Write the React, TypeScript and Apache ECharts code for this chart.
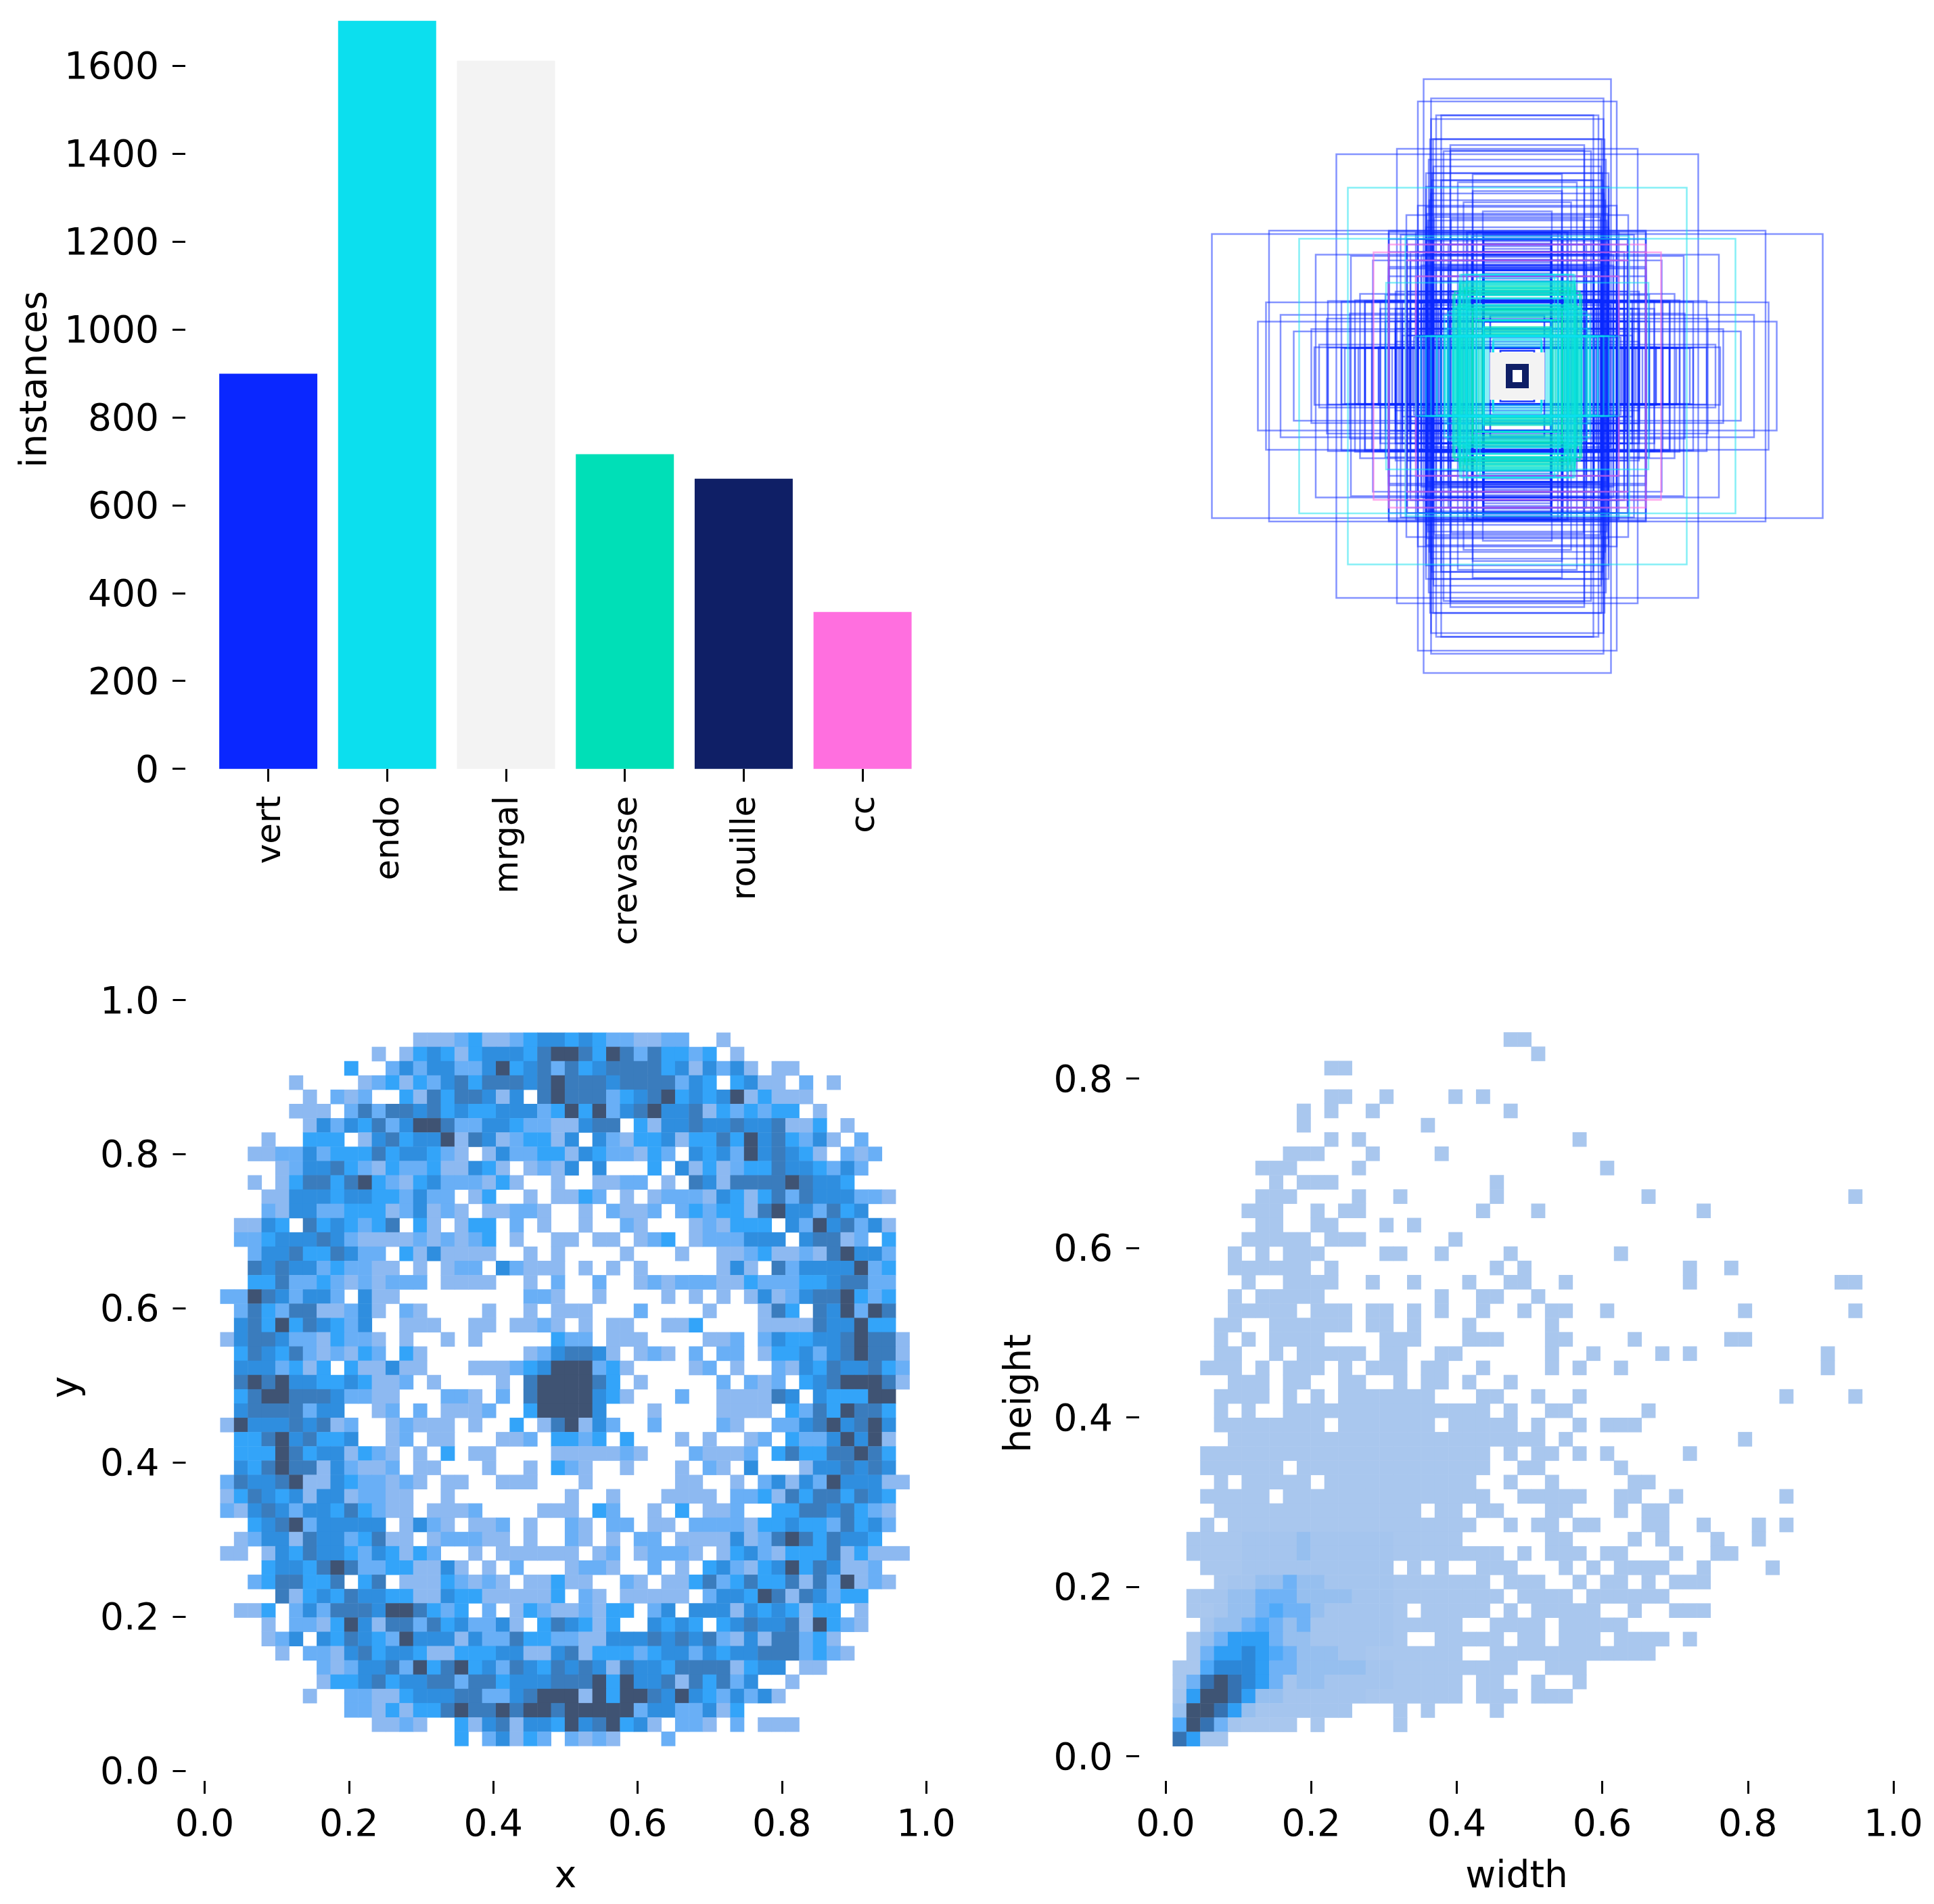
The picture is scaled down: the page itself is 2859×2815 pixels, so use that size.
import React, { useEffect, useRef } from "react";
import * as echarts from "echarts";

// ---- bar panel
const classNames = ["vert", "endo", "mrgal", "crevasse", "rouille", "cc"];
const classCounts = [899, 1702, 1611, 716, 660, 357];
const classColors = ["#0a27ff", "#0cdfee", "#f3f3f3", "#00dfb7", "#0f1f66", "#ff6fdf"];
const countTicks = [0, 200, 400, 600, 800, 1000, 1200, 1400, 1600];

// ---- box panel: [width, height] of each box
const vertBoxes = [
  [277, 878], [294, 812], [255, 821], [240, 771], [225, 771], [249, 701], [198, 683], [198, 667], [356, 672], [535, 656],
  [218, 665], [132, 597], [253, 579], [225, 579], [176, 573], [132, 547], [294, 504], [159, 514], [328, 476], [102, 487],
  [196, 465], [380, 430], [734, 430], [903, 420], [596, 359], [492, 355], [345, 418], [380, 323], [465, 243], [743, 218],
  [700, 181], [767, 161], [661, 132], [609, 139], [563, 170], [586, 93], [510, 82], [410, 85], [495, 185], [451, 222],
  [300, 218], [276, 210], [380, 318], [427, 342], [360, 102], [306, 114], [269, 162], [233, 198], [147, 424], [135, 414],
  [250, 222], [248, 224], [252, 220], [254, 222], [246, 222], [250, 226], [235, 222], [225, 222], [250, 313], [250, 320],
  [250, 330], [240, 315], [133, 222], [133, 313], [100, 313], [100, 420], [300, 83], [380, 83], [410, 85], [450, 84],
  [340, 162], [320, 162], [260, 162], [200, 162], [133, 162], [133, 83], [50, 75], [50, 75], [50, 75], [80, 180],
  [80, 178], [148, 207],
  [100, 320], [100, 328], [101, 336], [100, 344], [101, 352], [100, 360], [100, 368], [101, 376], [100, 384], [100, 392],
  [101, 400], [100, 408], [100, 416], [101, 312], [100, 304], [100, 296], [100, 288], [100, 280],
  [310, 83], [330, 84], [350, 83], [370, 84], [390, 83], [430, 84], [450, 83], [340, 84], [320, 83], [296, 83], [470, 84], [480, 83],
  [326, 405], [326, 389], [316, 367], [316, 342], [294, 405], [294, 367], [284, 358], [284, 327], [266, 389], [266, 342],
  [266, 313], [250, 405], [250, 389], [250, 367], [250, 342], [250, 295], [250, 280], [250, 250], [226, 405], [226, 358],
  [226, 313], [226, 280], [204, 389], [204, 327], [204, 295], [204, 250], [133, 405], [133, 367], [133, 342], [133, 295],
  [133, 250], [405, 222], [405, 199], [390, 240], [390, 162], [360, 250], [360, 199], [360, 162], [360, 140], [340, 222],
  [340, 199], [340, 120], [326, 250], [326, 222], [326, 162], [326, 120], [316, 222], [316, 199], [316, 140], [294, 250],
  [294, 222], [294, 199], [294, 162], [294, 120], [284, 222], [284, 199], [284, 140], [266, 222], [266, 199], [266, 162],
  [266, 120], [226, 222], [226, 199], [226, 162], [226, 120], [204, 222], [204, 199], [204, 162], [204, 120], [190, 222],
  [176, 222], [380, 405], [380, 367], [380, 295], [300, 218], [298, 218], [296, 218], [294, 218], [380, 426], [300, 424],
  [250, 424], [150, 426], [130, 424], [120, 425], [270, 600], [270, 560], [270, 500], [268, 480], [270, 440], [270, 400], [270, 360],
  [255, 760], [258, 700], [262, 640], [248, 620], [252, 600], [256, 540], [260, 520], [264, 460], [246, 470],
  [560, 222], [520, 220], [480, 224], [450, 218], [430, 222], [600, 85], [560, 84], [520, 83],
];
const ccBoxes = [[425, 366], [380, 389], [330, 342], [300, 295]];
const crevasseBoxes = [
  [170, 279], [170, 274], [170, 269], [170, 264], [170, 259], [170, 254], [170, 249], [170, 244],
  [133, 199], [133, 194], [133, 189], [133, 184], [133, 179], [133, 174],
  [100, 145], [100, 141], [100, 137], [100, 133], [100, 129], [100, 125], [100, 121],
  [130, 165], [122, 165], [114, 165], [106, 165],
  [173, 120], [163, 120], [153, 120],
  [140, 240], [145, 230], [150, 250], [155, 260], [160, 240], [175, 210], [180, 205], [165, 200], [150, 195], [185, 250],
  [190, 240], [140, 118], [148, 118], [178, 118], [190, 118], [205, 118], [215, 118],
];
const endoBoxes = [
  [501, 557], [645, 406], [388, 276], [331, 414], [100, 165], [70, 108], [238, 118], [100, 163], [130, 118], [90, 120],
  [210, 140], [170, 120], [150, 300], [120, 250], [200, 118], [238, 116], [170, 300], [165, 300],
  [72, 110], [72, 104], [72, 98], [72, 92], [72, 86], [85, 118], [95, 130], [120, 118], [140, 118], [150, 118], [180, 118],
  [190, 118], [215, 118], [225, 118], [255, 118], [270, 118], [285, 118], [300, 118], [110, 300], [120, 290], [140, 270],
  [150, 280], [160, 260], [175, 240], [185, 230], [190, 200], [205, 190], [215, 180], [125, 210], [145, 230], [155, 210],
];
const mrgalBoxes = [
  [78, 67], [74, 63], [70, 59], [66, 55], [62, 51], [58, 47], [54, 43], [50, 39], [46, 38], [42, 36], [38, 36], [76, 65],
  [72, 61], [68, 57], [64, 53], [60, 49], [56, 45], [52, 41],
];
const rouilleBoxes = [[32, 34], [30, 33], [28, 31], [26, 29], [24, 27], [22, 25], [20, 23], [18, 21], [32, 32], [16, 20]];

// ---- x / y histogram, top row first: colour level per bin (a space after column 27)
const xyLevels = [
  "000000000000001112311234434 32211220010000000000000",
  "000000000001013431344435665 36525332301000000000000",
  "000000000300242442246345253 45555341424101100000000",
  "000001000012313245355545655 54555524303411020100000",
  "000000102120031535541405655 52345634346131110000000",
  "000001110252554534334442363 62456445132323301000000",
  "000000142435246652244322114 55031445445445113010000",
  "000100333014534461541233140 42133413353645324102000",
  "001122423335344321014223314 32213204342645431021200",
  "000012445321322311431012140 40003041312335443242000",
  "001013553563213422213100100 11220105415555654430000",
  "000114443443324220130010113 20101222143135254442210",
  "000214422333124121011221001 02112023233156442534000",
  "011430534323503101330201001 00210001213330426452410",
  "022344454211112121230100110 11012301222444045512030",
  "002445335422031411110010100 00100010011231121564420",
  "005454423221101012204211101 01010000014105244446230",
  "003352232121222011110010200 20012122211322233455220",
  "226542442041100000000022100 10000101010141245563230",
  "025325511241021000010010111 00020000100015305462650",
  "045363543240011100110112101 01100113000011115446330",
  "145542213221010010100000322 01110000112024334456551",
  "035435212132031000000012455 41012102022013342456551",
  "044423130311411000111234666 23100001201002143544532",
  "056564433431120100001056666 53010000020212034566651",
  "035665554221100022102056666 43100020011115404333660",
  "045555244001202011120036666 40001000011110325365530",
  "164445451200121110100301561 42002000021002245645640",
  "033564533400120110001120332 30300010100120322464610",
  "033365344132101030110000111 11210002111203533556530",
  "043565514211201100010010321 00100010210400014454540",
  "254456114322121011001110001 00000011001024142644411",
  "135434144122110010000000010 01000111102231535535430",
  "214542443532110111200001110 32001030112003355453210",
  "003456244444014210112010021 02201102222133433253420",
  "012441544235110122211010021 01022011114125653544300",
  "110143544324313200101111110 12012221013421333513111",
  "000344356522331141010200012 21002010342134635411200",
  "002355335035011132121011311 00210113523533515261210",
  "000051343544331143311111302 10111110244365154233000",
  "011302425554665323020132112 13302404441434313301000",
  "000102213641552534224103543 13004343034544516321000",
  "000124043543264441422533221 14445454521415523100000",
  "000010221453443113334411451 33323442434455523210000",
  "000000021244526356342543545 41544355551344011000000",
  "000000013345344552553444555 63644515352400100000000",
  "000000100221134445522456661 63665464324241000000000",
  "000000000221313356556566566 66624422413000000000000",
  "000000000001121003145144364 56341022102011100000000",
  "000000000000000003024132021 21000200000000000000000",
].map((s) => s.replace(/ /g, ""));
const xyColors = ["#8db9f1", "#69aff6", "#33a4f9", "#2f8edf", "#3a7cbd", "#3f5373"];

// ---- width / height histogram, top row first: occupied bins, then shading of the first columns
const whOccupied = [
  "24-25", "26", "11-12", "", "11-12 15 20 22", "9 11 14 24", "9 18", "11 13 29", "8-10 14 19", "6-8 13 31",
  "7 9-11 23", "6-8 13 16 23 34 49", "5-7 10 12-13 22 26 38", "6-7 10-11 15 17", "5-9 11-13 20",
  "4 6 8-10 15-16 19 24 32", "4-9 11 23 25 37 40", "5 8-11 14 17 21 24-25 28 37 48-49", "4 6-10 19 22-23 26",
  "4-8 10-12 14-15 17 19 22 25 27-28 31 41 49", "3-4 7-12 14-15 17 21 27", "3 5 7-10 15-17 21-23 27-28 33 40-41",
  "3-4 7 9-13 15-16 19-20 27 30 35 37 47", "2-4 6 8-10 12 14-16 18-19 22 27 29 32 47",
  "4-6 8-9 12-13 16 18-19 21 24", "3-6 8 10 12-18 22-23 26 29 44 49", "3 5 8-22 24 27-28 34",
  "3-10 12-18 20-24 26 29 31-33", "4-26 28 41", "2-22 24 26-27 29 31 37", "2-7 9-22 25-26 32",
  "3 5-9 11-21 24 27 33-34", "2-6 8-22 25-29 32-33 36 44", "3-17 19-20 22-23 27-28 32 34-35",
  "2 4-21 24 26-27 29-30 34-35 38 42 44", "1-20 27-28 33 35 39 42", "1-23 25 27-29 31-32 36 39-40",
  "2-15 17 19 22-24 28 30 32-35 38 43", "3-22 24-26 29 31-32 34 36-38", "1-23 25-28 30-35",
  "1-16 18-22 24 26-30 33 36-38", "2-20 23-26 28-32", "1-16 19-23 25-26 28-30 32-35 37", "1-20 23-34",
  "0-24 27-29", "0-20 22-23 26 29", "0-20 22-24 26-28", "0-12 16 18 23", "0-8 10 16", "0-3",
];
const whShadeFirstRow = 35;
const whShade = [
  "0000022223222222", "0000022223222222", "0000022222222222", "0000223343322222", "0122334443333222",
  "0112334544322222", "0023345434222222", "0134666433222222", "0146676543332200", "1157776443333322",
  "1489876423322222", "2699863322222200", "3998632222222000", "5984211110000000", "8622",
];
const whColors = ["#a9c7ee", "#a5c5ee", "#96bfef", "#6fb2f6", "#4fa9f9", "#2f9ef5", "#2c87d8", "#3572b2", "#3e5474"];

const axisTitles = ["instances", "x", "y", "width", "height"];

const FONT = "DejaVu Sans";
const BINS = Array.from({ length: 50 }, (_, i) => String(i));

function levelCells(rows: string[]) {
  const out: number[][] = [];
  rows.forEach((row, r) => {
    for (let c = 0; c < row.length; c++) {
      const v = Number(row[c]);
      if (v > 0) out.push([c, r, v]);
    }
  });
  return out;
}

function whCells() {
  const out: number[][] = [];
  whOccupied.forEach((row, r) => {
    row.split(" ").filter(Boolean).forEach((tok) => {
      const [a, b] = tok.split("-").map(Number);
      for (let c = a; c <= (b === undefined ? a : b); c++) {
        const shade = r >= whShadeFirstRow ? Number((whShade[r - whShadeFirstRow] || "")[c] || 0) : 0;
        out.push([c, r, shade || 1]);
      }
    });
  });
  return out;
}

function boxSeries(data: number[][], color: string, opacity: number, width: number) {
  return {
    type: "custom",
    coordinateSystem: "cartesian2d",
    xAxisIndex: 1,
    yAxisIndex: 1,
    clip: false,
    silent: true,
    data,
    renderItem: (_p: any, api: any) => {
      const w = api.value(0);
      const h = api.value(1);
      const [x0, y0] = api.coord([537.5 - w / 2, 537.5 + h / 2]);
      const [x1, y1] = api.coord([537.5 + w / 2, 537.5 - h / 2]);
      return {
        type: "rect",
        shape: { x: x0, y: y0, width: x1 - x0, height: y1 - y0 },
        style: { fill: "none", stroke: color, opacity, lineWidth: width },
      };
    },
  };
}

const tickStyle = { show: true, length: 19, lineStyle: { color: "#000", width: 3 } };
const labelStyle = { color: "#000", fontFamily: FONT, fontSize: 55 };

function unitAxis(gridIndex: number, position: string, offset: number, max: number, margin: number) {
  return {
    type: "value",
    gridIndex,
    position,
    offset,
    min: 0,
    max,
    interval: 0.2,
    axisLine: { show: false, onZero: false },
    splitLine: { show: false },
    axisTick: tickStyle,
    axisLabel: { ...labelStyle, margin, formatter: (v: number) => v.toFixed(1) },
  };
}

function binAxis(gridIndex: number, inverse: boolean) {
  return { type: "category", gridIndex, data: BINS, show: false, inverse };
}

function titleText(text: string, x: number, y: number, vertical: boolean) {
  return {
    type: "text",
    x,
    y,
    rotation: vertical ? Math.PI / 2 : 0,
    style: { text, fill: "#000", font: `55px "${FONT}"`, textAlign: "center", textVerticalAlign: "middle" },
  };
}

export default function App() {
  const ref = useRef<HTMLDivElement>(null);
  useEffect(() => {
    const chart = echarts.init(ref.current!, undefined, { renderer: "svg" });
    chart.setOption({
      animation: false,
      backgroundColor: "#fff",
      grid: [
        { left: 308.75, top: 30, width: 1054.2, height: 1106.7 },
        { left: 1705.5, top: 18.5, width: 1075, height: 1075 },
        { left: 302.5, top: 1478.6, width: 1066.6, height: 1139.4 },
        { left: 325.7, top: 1526.8, width: 1018.9, height: 1054.6 },
        { left: 1723, top: 1594.5, width: 1076, height: 1002 },
        { left: 1733.7, top: 1526.4, width: 1019.3, height: 1055.3 },
      ],
      xAxis: [
        {
          type: "category",
          gridIndex: 0,
          data: classNames,
          axisLine: { show: false },
          axisTick: { ...tickStyle, alignWithLabel: true },
          axisLabel: { ...labelStyle, fontSize: 50, rotate: 90, margin: 40, interval: 0, padding: [0, 0, 8, 0] },
        },
        { type: "value", gridIndex: 1, min: 0, max: 1075, show: false },
        unitAxis(2, "bottom", 15, 1, 34),
        binAxis(3, false),
        unitAxis(4, "bottom", 36.5, 1, 34),
        binAxis(5, false),
      ],
      yAxis: [
        {
          type: "value",
          gridIndex: 0,
          offset: 34.75,
          min: 0,
          max: 1703,
          axisLine: { show: false },
          splitLine: { show: false },
          axisTick: { ...tickStyle, customValues: countTicks },
          axisLabel: { ...labelStyle, margin: 39, customValues: countTicks, formatter: (v: number) => String(v) },
        },
        { type: "value", gridIndex: 1, min: 0, max: 1075, show: false },
        unitAxis(2, "left", 28, 1, 39),
        binAxis(3, true),
        unitAxis(4, "left", 39, 0.8, 39),
        binAxis(5, true),
      ],
      visualMap: [
        { show: false, type: "continuous", seriesIndex: 6, dimension: 2, min: 1, max: 6, inRange: { color: xyColors } },
        { show: false, type: "continuous", seriesIndex: 7, dimension: 2, min: 1, max: 9, inRange: { color: whColors } },
      ],
      graphic: [
        titleText(axisTitles[0], 49, 561, true),
        titleText(axisTitles[1], 836, 2771, false),
        titleText(axisTitles[2], 95, 2051, true),
        titleText(axisTitles[3], 2242, 2771, false),
        titleText(axisTitles[4], 1504, 2060, true),
      ],
      series: [
        {
          type: "bar",
          xAxisIndex: 0,
          yAxisIndex: 0,
          barWidth: 145,
          silent: true,
          data: classCounts.map((value, i) => ({ value, itemStyle: { color: classColors[i] } })),
        },
        boxSeries(vertBoxes, classColors[0], 0.5, 2.5),
        boxSeries(ccBoxes, classColors[5], 0.6, 2.5),
        boxSeries(crevasseBoxes, classColors[3], 0.7, 2.5),
        boxSeries(endoBoxes, classColors[1], 0.5, 2.5),
        boxSeries(mrgalBoxes, classColors[2], 1, 3),
        {
          type: "heatmap",
          xAxisIndex: 3,
          yAxisIndex: 3,
          silent: true,
          progressive: 0,
          data: levelCells(xyLevels),
        },
        {
          type: "heatmap",
          xAxisIndex: 5,
          yAxisIndex: 5,
          silent: true,
          progressive: 0,
          data: whCells(),
        },
        boxSeries(rouilleBoxes, classColors[4], 1, 2),
      ],
    });
    return () => chart.dispose();
  }, []);
  return <div ref={ref} style={{ position: "fixed", left: 0, top: 0, width: 2859, height: 2815 }} />;
}
